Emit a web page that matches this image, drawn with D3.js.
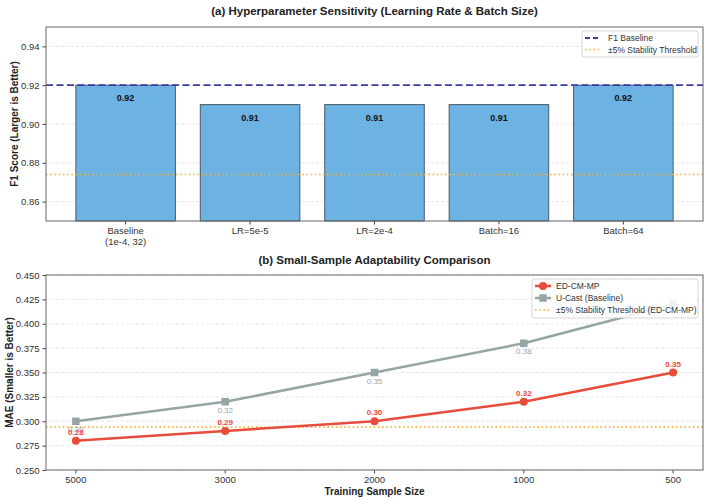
<!DOCTYPE html>
<html><head><meta charset="utf-8">
<script src="https://cdn.jsdelivr.net/npm/d3@7"></script>
<style>
body{margin:0;background:#fff;}
text{font-family:"Liberation Sans",Arial,sans-serif;}
</style></head>
<body><svg id="c" width="708" height="500"></svg>
<script>
// Panel (a) data
const hpCategories = ["Baseline\n(1e-4, 32)", "LR=5e-5", "LR=2e-4", "Batch=16", "Batch=64"];
const hpF1 = [0.92, 0.91, 0.91, 0.91, 0.92];
const f1Baseline = 0.92;
const f1Threshold = 0.874;
const f1Ticks = [0.86, 0.88, 0.90, 0.92, 0.94];
// Panel (b) data
const sampleSizes = ["5000", "3000", "2000", "1000", "500"];
const edcmmp = [0.28, 0.29, 0.30, 0.32, 0.35];
const ucast = [0.30, 0.32, 0.35, 0.38, 0.42];
const maeThreshold = 0.294;
const maeTicks = [0.250, 0.275, 0.300, 0.325, 0.350, 0.375, 0.400, 0.425, 0.450];

const svg = d3.select("#c");
const RED = "#e74c3c", GRAY = "#95a5a6", BLUE = "#6cb3e3", NAVY = "#3b3ba0", ORANGE = "#f5b43c";

function frame(g, x0, y0, x1, y1) {
  g.append("rect").attr("x", x0).attr("y", y0).attr("width", x1 - x0).attr("height", y1 - y0)
    .attr("fill", "none").attr("stroke", "#666").attr("stroke-width", 1);
}
function styleAxis(a) {
  a.select(".domain").remove();
  a.selectAll(".tick line").attr("stroke", "#444");
  a.selectAll(".tick text").attr("fill", "#333").style("font-size", "9.5px");
}

// ---------- Panel (a) ----------
{
  const L = 46, R = 703, T = 27, B = 221;
  const g = svg.append("g");
  const y = d3.scaleLinear().domain([0.85, 0.95]).range([B, T]);
  const step = (R - L) / 5.28;
  const x = i => L + (i + 0.64) * step;
  const bw = 0.8 * step;

  g.selectAll(".grid").data(f1Ticks).join("line")
    .attr("x1", L).attr("x2", R).attr("y1", d => y(d)).attr("y2", d => y(d))
    .attr("stroke", "#ddd").attr("stroke-dasharray", "3,2").attr("stroke-width", 0.7);

  g.selectAll(".bar").data(hpF1).join("rect")
    .attr("x", (d, i) => x(i) - bw / 2).attr("y", d => y(d))
    .attr("width", bw).attr("height", d => B - y(d))
    .attr("fill", BLUE).attr("stroke", "#4a5a66").attr("stroke-width", 1);

  g.selectAll(".bl").data(hpF1).join("text")
    .attr("x", (d, i) => x(i)).attr("y", d => y(d) + 16)
    .attr("text-anchor", "middle").style("font-size", "9px").style("font-weight", "bold")
    .attr("fill", "#111").text(d => d.toFixed(2));

  g.append("line").attr("x1", L).attr("x2", R).attr("y1", y(f1Baseline)).attr("y2", y(f1Baseline))
    .attr("stroke", NAVY).attr("stroke-width", 1.8).attr("stroke-dasharray", "7,3.5");
  g.append("line").attr("x1", L).attr("x2", R).attr("y1", y(f1Threshold)).attr("y2", y(f1Threshold))
    .attr("stroke", ORANGE).attr("stroke-width", 1.6).attr("stroke-dasharray", "1.6,2.6");

  const ya = g.append("g").attr("transform", `translate(${L},0)`)
    .call(d3.axisLeft(y).tickValues(f1Ticks).tickFormat(d3.format(".2f")).tickSize(3.5).tickPadding(3));
  styleAxis(ya);

  hpCategories.forEach((c, i) => {
    g.append("line").attr("x1", x(i)).attr("x2", x(i)).attr("y1", B).attr("y2", B + 3.5).attr("stroke", "#444");
    const t = g.append("text").attr("x", x(i)).attr("y", B + 13).attr("text-anchor", "middle")
      .style("font-size", "9.5px").attr("fill", "#333");
    c.split("\n").forEach((ln, j) => t.append("tspan").attr("x", x(i)).attr("dy", j ? 11 : 0).text(ln));
  });

  frame(g, L, T, R, B);

  g.append("text").attr("x", (L + R) / 2).attr("y", 15).attr("text-anchor", "middle")
    .style("font-size", "11.5px").style("font-weight", "bold").attr("fill", "#222")
    .text("(a) Hyperparameter Sensitivity (Learning Rate & Batch Size)");
  g.append("text").attr("transform", `translate(18,${(T + B) / 2}) rotate(-90)`).attr("text-anchor", "middle")
    .style("font-size", "10px").style("font-weight", "bold").attr("fill", "#222")
    .text("F1 Score (Larger is Better)");

  const lg = g.append("g");
  lg.append("rect").attr("x", 582).attr("y", 31).attr("width", 116).attr("height", 26).attr("rx", 2)
    .attr("fill", "#fff").attr("fill-opacity", 0.85).attr("stroke", "#ccc").attr("stroke-width", 0.8);
  lg.append("line").attr("x1", 585).attr("x2", 601).attr("y1", 38).attr("y2", 38)
    .attr("stroke", NAVY).attr("stroke-width", 1.8).attr("stroke-dasharray", "5,3");
  lg.append("line").attr("x1", 585).attr("x2", 601).attr("y1", 49.5).attr("y2", 49.5)
    .attr("stroke", ORANGE).attr("stroke-width", 1.6).attr("stroke-dasharray", "1.6,2.6");
  lg.append("text").attr("x", 608).attr("y", 41).style("font-size", "8.5px").attr("fill", "#333").text("F1 Baseline");
  lg.append("text").attr("x", 608).attr("y", 52.5).style("font-size", "8.5px").attr("fill", "#333").text("±5% Stability Threshold");
}

// ---------- Panel (b) ----------
{
  const L = 46, R = 703, T = 275, B = 470;
  const g = svg.append("g");
  const y = d3.scaleLinear().domain([0.25, 0.45]).range([B, T]);
  const step = (R - L) / 4.4;
  const x = i => L + (i + 0.2) * step;

  g.selectAll(".grid").data(maeTicks).join("line")
    .attr("x1", L).attr("x2", R).attr("y1", d => y(d)).attr("y2", d => y(d))
    .attr("stroke", "#ddd").attr("stroke-dasharray", "3,2").attr("stroke-width", 0.7);

  g.append("line").attr("x1", L).attr("x2", R).attr("y1", y(maeThreshold)).attr("y2", y(maeThreshold))
    .attr("stroke", ORANGE).attr("stroke-width", 1.6).attr("stroke-dasharray", "1.6,2.6");

  const line = d3.line().x((d, i) => x(i)).y(d => y(d));
  g.append("path").datum(ucast).attr("d", line).attr("fill", "none").attr("stroke", GRAY).attr("stroke-width", 2.5);
  g.selectAll(".sq").data(ucast).join("rect")
    .attr("x", (d, i) => x(i) - 3.75).attr("y", d => y(d) - 3.75).attr("width", 7.5).attr("height", 7.5).attr("fill", GRAY);
  g.append("path").datum(edcmmp).attr("d", line).attr("fill", "none").attr("stroke", RED).attr("stroke-width", 2.5);
  g.selectAll(".ci").data(edcmmp).join("circle")
    .attr("cx", (d, i) => x(i)).attr("cy", d => y(d)).attr("r", 4).attr("fill", RED);

  // the last U-Cast label sits under the legend in the reference, so it is not drawn
  g.selectAll(".ul").data(ucast.slice(0, 4)).join("text")
    .attr("x", (d, i) => x(i)).attr("y", d => y(d) + 11).attr("text-anchor", "middle")
    .style("font-size", "8px").attr("fill", GRAY).text(d => d.toFixed(2));
  g.selectAll(".el").data(edcmmp).join("text")
    .attr("x", (d, i) => x(i)).attr("y", d => y(d) - 6).attr("text-anchor", "middle")
    .style("font-size", "8px").style("font-weight", "bold").attr("fill", RED).text(d => d.toFixed(2));

  const ya = g.append("g").attr("transform", `translate(${L},0)`)
    .call(d3.axisLeft(y).tickValues(maeTicks).tickFormat(d3.format(".3f")).tickSize(3.5).tickPadding(3));
  styleAxis(ya);

  sampleSizes.forEach((c, i) => {
    g.append("line").attr("x1", x(i)).attr("x2", x(i)).attr("y1", B).attr("y2", B + 3.5).attr("stroke", "#444");
    g.append("text").attr("x", x(i)).attr("y", B + 13).attr("text-anchor", "middle")
      .style("font-size", "9.5px").attr("fill", "#333").text(c);
  });

  frame(g, L, T, R, B);

  g.append("text").attr("x", (L + R) / 2).attr("y", 264).attr("text-anchor", "middle")
    .style("font-size", "11.5px").style("font-weight", "bold").attr("fill", "#222")
    .text("(b) Small-Sample Adaptability Comparison");
  g.append("text").attr("x", (L + R) / 2).attr("y", 495).attr("text-anchor", "middle")
    .style("font-size", "10px").style("font-weight", "bold").attr("fill", "#222")
    .text("Training Sample Size");
  g.append("text").attr("transform", `translate(13,${(T + B) / 2}) rotate(-90)`).attr("text-anchor", "middle")
    .style("font-size", "10px").style("font-weight", "bold").attr("fill", "#222")
    .text("MAE (Smaller is Better)");

  const lg = g.append("g");
  lg.append("rect").attr("x", 532).attr("y", 279).attr("width", 166).attr("height", 39).attr("rx", 2)
    .attr("fill", "#fff").attr("fill-opacity", 0.85).attr("stroke", "#ccc").attr("stroke-width", 0.8);
  lg.append("line").attr("x1", 535).attr("x2", 551).attr("y1", 286).attr("y2", 286).attr("stroke", RED).attr("stroke-width", 2.5);
  lg.append("circle").attr("cx", 543).attr("cy", 286).attr("r", 4).attr("fill", RED);
  lg.append("line").attr("x1", 535).attr("x2", 551).attr("y1", 298).attr("y2", 298).attr("stroke", GRAY).attr("stroke-width", 2.5);
  lg.append("rect").attr("x", 539.25).attr("y", 294.25).attr("width", 7.5).attr("height", 7.5).attr("fill", GRAY);
  lg.append("line").attr("x1", 535).attr("x2", 551).attr("y1", 310).attr("y2", 310)
    .attr("stroke", ORANGE).attr("stroke-width", 1.6).attr("stroke-dasharray", "1.6,2.6");
  lg.append("text").attr("x", 556).attr("y", 289).style("font-size", "8.5px").attr("fill", "#333").text("ED-CM-MP");
  lg.append("text").attr("x", 556).attr("y", 301).style("font-size", "8.5px").attr("fill", "#333").text("U-Cast (Baseline)");
  lg.append("text").attr("x", 556).attr("y", 313).style("font-size", "8.5px").attr("fill", "#333").text("±5% Stability Threshold (ED-CM-MP)");
}
</script></body></html>
